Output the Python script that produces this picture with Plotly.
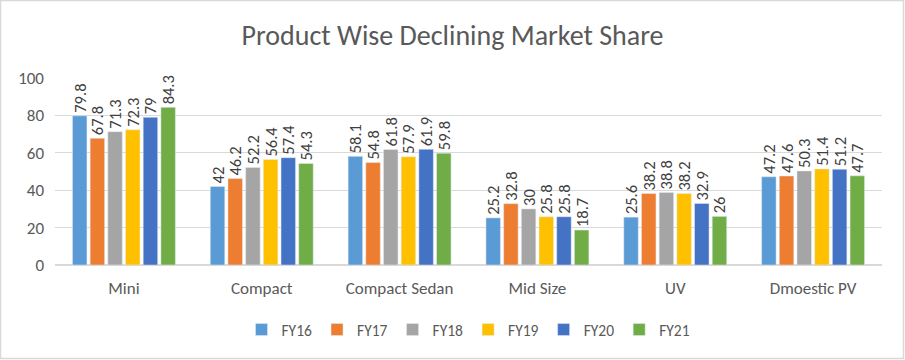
import plotly.graph_objects as go

categories = ["Mini", "Compact", "Compact Sedan", "Mid Size", "UV", "Dmoestic PV"]
series_names = ["FY16", "FY17", "FY18", "FY19", "FY20", "FY21"]
fy16 = [79.8, 42, 58.1, 25.2, 25.6, 47.2]
fy17 = [67.8, 46.2, 54.8, 32.8, 38.2, 47.6]
fy18 = [71.3, 52.2, 61.8, 30, 38.8, 50.3]
fy19 = [72.3, 56.4, 57.9, 25.8, 38.2, 51.4]
fy20 = [79, 57.4, 61.9, 25.8, 32.9, 51.2]
fy21 = [84.3, 54.3, 59.8, 18.7, 26, 47.7]
series_values = [fy16, fy17, fy18, fy19, fy20, fy21]
colors = ["#5B9BD5", "#ED7D31", "#A5A5A5", "#FFC000", "#4472C4", "#70AD47"]

W, H = 905, 360
ml, mr, mt, mb = 55, 23, 78, 95
pw = W - ml - mr
ph = H - mt - mb
FONT = "Calibri, Carlito, Lato, sans-serif"

fig = go.Figure()
for name, vals, c in zip(series_names, series_values, colors):
    fig.add_trace(go.Bar(
        x=categories, y=vals, name=name, marker_color=c,
        text=[str(v) for v in vals], textposition="outside", textangle=-90,
        textfont=dict(size=16.5, color="#404040", family=FONT),
        cliponaxis=False,
    ))

fig.update_layout(
    width=W, height=H,
    margin=dict(l=ml, r=mr, t=mt, b=mb),
    paper_bgcolor="white", plot_bgcolor="white",
    barmode="group", bargap=0.23, bargroupgap=0.18,
    uniformtext=dict(minsize=16.5, mode="show"),
    font=dict(family=FONT, color="#595959", size=14),
    title=dict(text="Product Wise Declining Market Share", x=0.5, xanchor="center",
               y=1 - 35 / H, yanchor="middle", font=dict(size=28, color="#595959")),
    legend=dict(orientation="h", x=0.5, xanchor="center", y=(H - mb - 330) / ph, yanchor="middle",
                font=dict(size=15.5, color="#595959"), traceorder="normal", itemwidth=30),
    showlegend=True,
)

fig.update_yaxes(range=[0, 100], dtick=20, showgrid=True, gridcolor="#D9D9D9", gridwidth=1,
                 zeroline=True, zerolinecolor="#D9D9D9", showline=False, ticks="",
                 ticklabelstandoff=10,
                 tickfont=dict(size=17, color="#595959"))
fig.update_xaxes(showline=True, linecolor="#D9D9D9", ticks="", ticklabelstandoff=8,
                 tickfont=dict(size=17, color="#595959"))

fig.add_shape(type="rect", xref="paper", yref="paper",
              x0=(0.5 - ml) / pw, x1=(W - 1.5 - ml) / pw,
              y0=(H - mb - (H - 1.5)) / ph, y1=(H - mb - 0.5) / ph,
              line=dict(color="#D9D9D9", width=1.5), fillcolor="rgba(0,0,0,0)", layer="below")

fig.write_html("out.html", config={"displayModeBar": False},
               post_script="document.body.style.margin='0';")
